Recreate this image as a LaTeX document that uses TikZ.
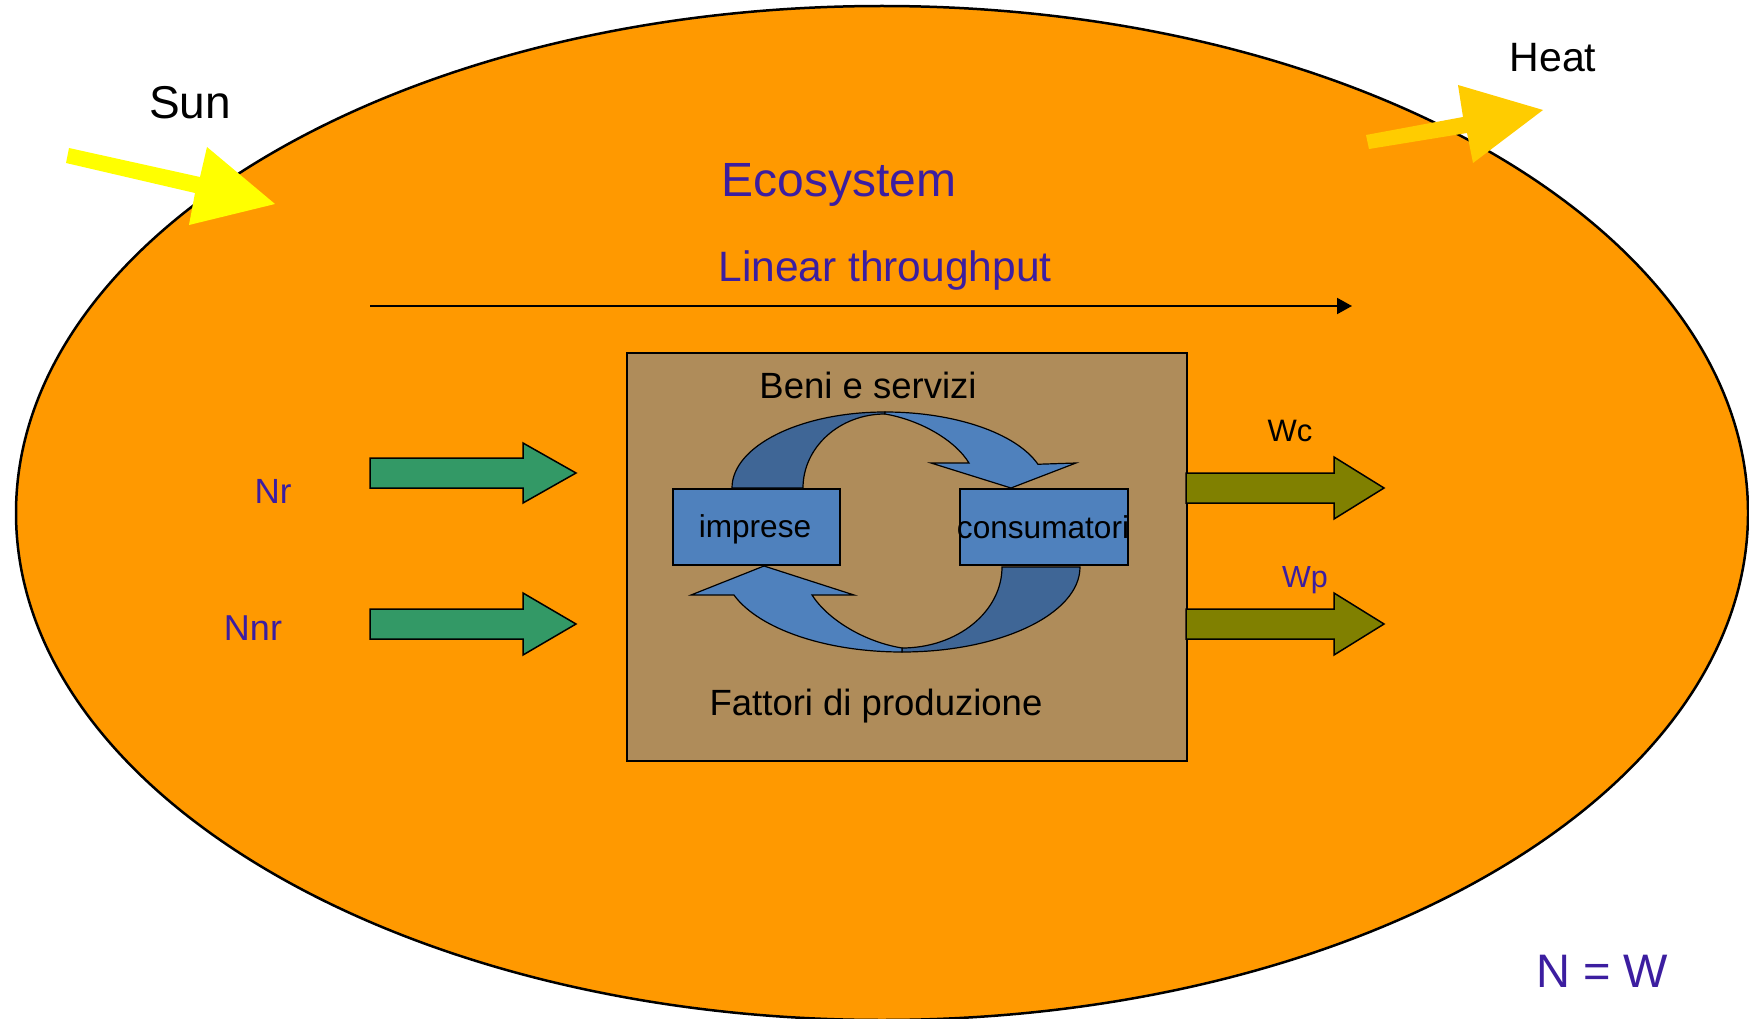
\documentclass[tikz,border=0pt]{standalone}
\usepackage{fontspec}
\setmainfont{Liberation Sans}
\usetikzlibrary{arrows.meta}
\definecolor{ecoorange}{HTML}{FF9900}
\definecolor{boxbrown}{HTML}{AF8C5A}
\definecolor{cblue}{HTML}{4F81BD}
\definecolor{cdark}{HTML}{3F6696}
\definecolor{cgreen}{HTML}{339966}
\definecolor{colive}{HTML}{808000}
\definecolor{sunyellow}{HTML}{FFFF00}
\definecolor{heatyellow}{HTML}{FFCC00}
\definecolor{tviolet}{HTML}{3C1EA0}
\newcommand\fsz[1]{\fontsize{#1}{#1}\selectfont}
\begin{document}
\begin{tikzpicture}[x=1pt,y=-1pt,
  lbl/.style={anchor=base, inner sep=0pt},
  blockarrow/.style={draw=black, line width=1.5pt, line join=miter},
  curvedarrow/.style={draw=black, line width=1.2pt, line join=miter},
  smallbox/.style={draw=black, line width=1.5pt, fill=cblue, inner sep=0pt, anchor=north west, minimum height=76pt}]
\useasboundingbox (0,0) rectangle (1749,1019);
\clip (0,0) rectangle (1749,1019);
\fill[white] (0,0) rectangle (1749,1019);
% ecosystem ellipse
\draw[line width=2.5pt, fill=ecoorange] (882,513) ellipse [x radius=866, y radius=507];

% sun arrow
\fill[sunyellow] (69,148) -- (200,177) -- (207,147) -- (275,204) -- (189,225) -- (195,193) -- (66,163) -- cycle;
% heat arrow
\fill[heatyellow] (1366,135) -- (1463,117) -- (1458,85) -- (1543,110) -- (1473,163) -- (1467,133) -- (1369,149) -- cycle;

% texts outside / top
\node[lbl, font=\fsz{46}] (sun) at (190,119) {Sun};
\node[lbl, font=\fsz{41}] (heat) at (1553,72) {Heat};
\node[lbl, font=\fsz{48}, text=tviolet] (eco) at (839,197) {Ecosystem};
\node[lbl, font=\fsz{42.5}, text=tviolet] (lin) at (885,282) {Linear throughput};

% linear throughput arrow
\coordinate (lt0) at (370,306);
\coordinate (lt1) at (1352,306);
\draw[line width=2pt, -{Triangle[length=15pt,width=16pt]}] (lt0) -- (lt1);

% economy box
\node[draw=black, line width=2pt, fill=boxbrown, inner sep=0pt, anchor=north west,
      minimum width=560pt, minimum height=408pt] (econ) at (626,352) {};

% small boxes
\node[smallbox, minimum width=167pt] (imp) at (672,488) {};
\node[smallbox, minimum width=168pt] (cons) at (959,488) {};

% circular arrows: dark back bands
\draw[curvedarrow, fill=cdark] (732,488) arc[start angle=180, end angle=270, x radius=153, y radius=76]
  -- (885,414) arc[start angle=270, end angle=180, x radius=82, y radius=74] -- cycle;
\draw[curvedarrow, fill=cdark] (1080,567) arc[start angle=0, end angle=90, x radius=178, y radius=85]
  -- (902,648) arc[start angle=90, end angle=0, x radius=100, y radius=81] -- cycle;
% light front bands with heads
\draw[curvedarrow, fill=cblue] (885,412) arc[start angle=270, end angle=341.8, x radius=161, y radius=76]
  -- (1076,463) -- (1011,488) -- (931,463) -- (969,463)
  .. controls (955,440) and (920,420) .. (885,414) -- cycle;
\draw[curvedarrow, fill=cblue] (902,652) arc[start angle=90, end angle=160.7, x radius=178, y radius=85]
  -- (691,595) -- (764,566) -- (854,595) -- (812,595)
  .. controls (828,620) and (865,642) .. (902,648) -- cycle;

% texts in the economy box
\node[lbl, font=\fsz{36.5}] (beni) at (868,398) {Beni e servizi};
\node[lbl, font=\fsz{36.5}] (fatt) at (876,715) {Fattori di produzione};
\node[lbl, font=\fsz{31.6}] (impT) at (755,537) {imprese};
\node[lbl, font=\fsz{31.6}] (consT) at (1043,538) {consumatori};

% input arrows
\draw[blockarrow, fill=cgreen] (370,458) -- (523,458) -- (523,443) -- (576,473) -- (523,503) -- (523,488) -- (370,488) -- cycle;
\draw[blockarrow, fill=cgreen] (370,609) -- (523,609) -- (523,593) -- (576,624) -- (523,655) -- (523,639) -- (370,639) -- cycle;
% output arrows
\draw[blockarrow, fill=colive] (1186,473) -- (1334,473) -- (1334,457) -- (1384,488) -- (1334,519) -- (1334,503) -- (1186,503) -- cycle;
\draw[blockarrow, fill=colive] (1186,609) -- (1334,609) -- (1334,593) -- (1384,624) -- (1334,655) -- (1334,639) -- (1186,639) -- cycle;

\node[lbl, font=\fsz{35}, text=tviolet] (nr) at (273,503) {Nr};
\node[lbl, font=\fsz{36}, text=tviolet] (nnr) at (253,640) {Nnr};
\node[lbl, font=\fsz{31}] (wc) at (1290,441) {Wc};
\node[lbl, font=\fsz{30.5}, text=tviolet] (wp) at (1305,587) {Wp};
\node[lbl, font=\fsz{47}, text=tviolet] (nw) at (1602,987) {N = W};
\end{tikzpicture}
\end{document}
